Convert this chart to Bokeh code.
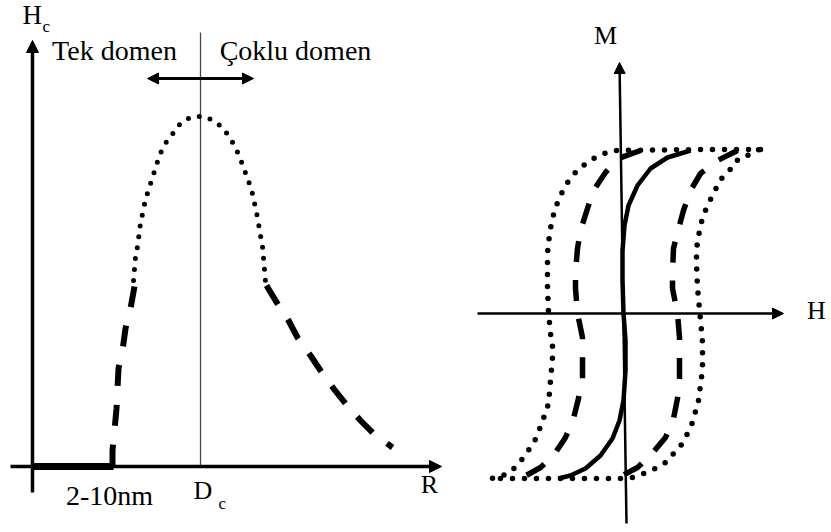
from bokeh.plotting import figure
from bokeh.models import Range1d, Arrow, NormalHead
from bokeh.core.properties import value
from bokeh.embed import file_html
from bokeh.resources import INLINE

# ---------------------------------------------------------------
# Schematic data (canvas units, y grows downward)
# ---------------------------------------------------------------

# Left panel: coercivity Hc versus particle size R
peak_x = [133, 135, 137, 140, 145, 152, 159, 164, 171, 178, 188, 199,
          211, 221, 228, 234, 239, 243, 247, 251, 256, 258, 260, 262, 264, 265]
peak_y = [280, 257, 246, 223, 199, 177, 155, 144, 135, 125, 118, 116,
          119, 126, 135, 145, 156, 167, 178, 189, 212, 223, 235, 246, 269, 281]

rise_x = [134, 130, 125, 122, 118, 117, 116, 114, 112, 112]
rise_y = [286, 308, 328, 350, 368, 388, 408, 430, 450, 466]

fall_x = [266, 275, 288, 297, 310, 320, 333, 345, 360, 373, 392]
fall_y = [285, 300, 320, 337, 355, 370, 388, 403, 420, 433, 447]

# Right panel: hysteresis loops M(H)
wide_loop_x = [760, 700, 613, 598, 590, 580, 572, 565, 560, 555, 552, 550, 548, 547,
               547, 548, 550, 552, 552, 550, 548, 544, 540, 536, 530, 523, 516, 507, 498, 490,
               560, 623, 632, 643, 655, 665, 673, 682, 687, 692, 698, 701, 702, 702, 701,
               700, 697, 696, 696, 697, 702, 707, 717, 723, 732, 738, 752, 760]
wide_loop_y = [149, 149, 150, 155, 160, 167, 175, 185, 195, 207, 218, 228, 242, 253,
               288, 312, 333, 345, 357, 380, 403, 415, 426, 437, 447, 457, 466, 473, 477, 478,
               478, 478, 477, 473, 468, 462, 453, 443, 433, 422, 400, 377, 365, 342, 330,
               320, 287, 263, 252, 240, 217, 205, 185, 175, 167, 158, 153, 148]

mid_left_x = [640, 618, 605, 593, 587, 580, 577, 575, 575, 577, 582, 582, 582, 578,
              573, 565, 553, 540, 522, 510]
mid_left_y = [150, 158, 172, 190, 208, 230, 248, 272, 288, 313, 337, 357, 378, 398,
              418, 437, 455, 467, 477, 479]

mid_right_x = [737, 717, 700, 690, 683, 677, 673, 672, 672, 677, 679, 679, 679, 677,
               673, 665, 650, 637, 618, 608]
mid_right_y = [150, 160, 173, 190, 210, 232, 248, 272, 288, 313, 337, 355, 378, 398,
               418, 437, 455, 467, 477, 479]

narrow_x = [690, 667, 650, 637, 628, 624, 622, 622, 623, 625, 625, 623, 619,
            612, 600, 585, 570, 558]
narrow_y = [150, 157, 168, 185, 205, 225, 250, 280, 313, 340, 370, 400, 420,
            438, 455, 468, 475, 478]

# ---------------------------------------------------------------
# Canvas
# ---------------------------------------------------------------
W, H = 831, 532
p = figure(width=W, height=H, x_range=Range1d(0, W), y_range=Range1d(H, 0),
           output_backend="svg", toolbar_location=None, min_border=0,
           x_axis_location=None, y_axis_location=None)
p.grid.visible = False
p.outline_line_color = None
p.background_fill_color = "white"
p.border_fill_color = "white"

ink = "black"


def arrow(x0, y0, x1, y1, width, size, both=False):
    head = dict(size=size, fill_color=ink, line_color=ink, line_width=1)
    p.add_layout(Arrow(x_start=x0, y_start=y0, x_end=x1, y_end=y1,
                       line_width=width, line_color=ink,
                       end=NormalHead(**head),
                       start=NormalHead(**head) if both else None))


# ---- left panel axes ----
arrow(32, 492, 32, 40, 3.5, 12)          # Hc axis
arrow(10, 466, 441, 466, 3.5, 12)        # R axis
p.line([32, 113], [466, 466], line_width=7, line_color=ink)   # 2-10 nm span
p.line([200, 200], [32, 466], line_width=1.3, line_color="#444444")  # Dc marker
arrow(147, 78, 253, 78, 3, 11, both=True)

# ---- left panel curve ----
p.line(peak_x, peak_y, line_width=5, line_color=ink, line_dash="0 11", line_cap="round")
p.line(rise_x, rise_y, line_width=6, line_color=ink, line_dash="21 19")
p.line(fall_x, fall_y, line_width=6, line_color=ink, line_dash="22 18")

# ---- right panel axes ----
arrow(626, 523, 619, 62, 2.5, 11)        # M axis
arrow(477, 313, 783, 313, 2.5, 11)       # H axis

# ---- hysteresis loops ----
p.line(wide_loop_x, wide_loop_y, line_width=5.5, line_color=ink,
       line_dash="0 12", line_cap="round")
p.line(mid_left_x, mid_left_y, line_width=5.5, line_color=ink, line_dash="21 18")
p.line(mid_right_x, mid_right_y, line_width=5.5, line_color=ink, line_dash="21 18")
p.line(narrow_x, narrow_y, line_width=4.5, line_color=ink, line_join="round")

# ---- labels (y is the vertical centre of the capitals) ----
font = value("Liberation Serif")


def label(x, y, txt, size, align="center"):
    p.text(x=[x], y=[y], text=[txt], text_font=font, text_font_size=f"{size}px",
           text_color=ink, text_align=align, text_baseline="middle")


label(114, 50, "Tek domen", 28)
label(295, 50, "Çoklu domen", 28)
label(22, 14, "H", 27, "left")
label(42, 26, "c", 17, "left")
label(109, 495, "2-10nm", 28)
label(193, 490, "D", 26, "left")
label(218, 503, "c", 17, "left")
label(429, 484, "R", 26)
label(605, 35, "M", 26)
label(816, 310, "H", 26)

open("out.html", "w").write(file_html(p, INLINE))
